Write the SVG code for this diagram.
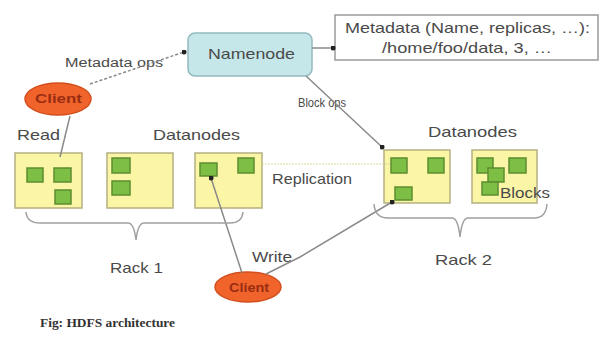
<svg xmlns="http://www.w3.org/2000/svg" width="601" height="338" viewBox="0 0 601 338">
<defs>
<marker id="dot" viewBox="0 0 6 6" refX="3" refY="3" markerWidth="5" markerHeight="5" markerUnits="userSpaceOnUse"><circle cx="3" cy="3" r="3" fill="#222"/></marker>
<style>
text{font-family:"Liberation Sans",Arial,sans-serif;fill:#4a4a4a;}
.t{font-size:15px;}
.s{font-size:12px;}
.dn{fill:#fbf5a6;stroke:#b5ae80;stroke-width:1.5;}
.bk{fill:#7cbf44;stroke:#5d8d32;stroke-width:1.5;}
.cl{fill:#f0642c;stroke:#d24e1c;stroke-width:1.5;}
.clt{font-size:13px;fill:#9a2c12;font-weight:bold;}
.ln{stroke:#8a8a8a;stroke-width:1.5;fill:none;}
.br{stroke:#a0a0a0;stroke-width:1.5;fill:none;}
</style>
</defs>
<rect width="601" height="338" fill="#ffffff"/>

<g id="namenode">
<rect x="188" y="33" width="124" height="43" rx="7" fill="#c6e7ea" stroke="#93b9be" stroke-width="1.5"/>
<text class="t" x="208" y="59" textLength="87" lengthAdjust="spacingAndGlyphs">Namenode</text>
</g>

<g id="metadata">
<rect x="335" y="15" width="263" height="45" fill="#ffffff" stroke="#9a9a9a" stroke-width="1.5"/>
<text class="t" x="345" y="33" textLength="245" lengthAdjust="spacingAndGlyphs">Metadata (Name, replicas, …):</text>
<text class="t" x="382" y="53" textLength="170" lengthAdjust="spacingAndGlyphs">/home/foo/data, 3, …</text>
</g>

<g id="client-read">
<ellipse class="cl" cx="58" cy="99" rx="33" ry="16"/>
<text class="clt" x="35" y="103" textLength="47" lengthAdjust="spacingAndGlyphs">Client</text>
</g>

<g id="client-write">
<ellipse class="cl" cx="248" cy="287" rx="33" ry="15"/>
<text class="clt" x="229" y="292" textLength="40" lengthAdjust="spacingAndGlyphs">Client</text>
</g>

<g id="labels">
<text class="s" x="65" y="67" textLength="98" lengthAdjust="spacingAndGlyphs">Metadata ops</text>
<text class="s" x="298" y="107" textLength="48" lengthAdjust="spacingAndGlyphs">Block ops</text>
<text class="t" x="17" y="140" textLength="43" lengthAdjust="spacingAndGlyphs">Read</text>
<text class="t" x="153" y="140" textLength="87" lengthAdjust="spacingAndGlyphs">Datanodes</text>
<text class="t" x="428" y="137" textLength="89" lengthAdjust="spacingAndGlyphs">Datanodes</text>
<text class="t" x="272" y="184" font-size="14" textLength="80" lengthAdjust="spacingAndGlyphs">Replication</text>
<text class="t" x="252" y="262" textLength="40" lengthAdjust="spacingAndGlyphs">Write</text>
<text class="t" x="110" y="273" textLength="53" lengthAdjust="spacingAndGlyphs">Rack 1</text>
<text class="t" x="435" y="265" textLength="57" lengthAdjust="spacingAndGlyphs">Rack 2</text>
<text x="40" y="327" style="font-family:'Liberation Serif','Times New Roman',serif;font-size:12px;font-weight:bold;fill:#333" textLength="135" lengthAdjust="spacingAndGlyphs">Fig: HDFS architecture</text>
</g>

<g id="rack1-dn1">
<rect class="dn" x="15" y="153" width="67" height="55"/>
<rect class="bk" x="27" y="168" width="16" height="14"/>
<rect class="bk" x="54" y="168" width="17" height="14"/>
<rect class="bk" x="55" y="190" width="16" height="14"/>
</g>
<g id="rack1-dn2">
<rect class="dn" x="107" y="153" width="66" height="55"/>
<rect class="bk" x="112" y="158" width="18" height="15"/>
<rect class="bk" x="112" y="181" width="18" height="14"/>
</g>
<g id="rack1-dn3">
<rect class="dn" x="195" y="153" width="67" height="55"/>
<rect class="bk" x="200" y="163" width="17" height="13"/>
<rect class="bk" x="238" y="158" width="16" height="15"/>
</g>
<g id="rack2-dn1">
<rect class="dn" x="384" y="150" width="66" height="53"/>
<rect class="bk" x="391" y="158" width="16" height="15"/>
<rect class="bk" x="428" y="158" width="16" height="15"/>
<rect class="bk" x="395" y="187" width="17" height="13"/>
</g>
<g id="rack2-dn2">
<rect class="dn" x="472" y="150" width="65" height="53"/>
<rect class="bk" x="477" y="158" width="16" height="15"/>
<rect class="bk" x="509" y="158" width="17" height="15"/>
<rect class="bk" x="488" y="168" width="16" height="14"/>
<rect class="bk" x="482" y="182" width="16" height="13"/>
<text class="t" x="500" y="198" textLength="50" lengthAdjust="spacingAndGlyphs">Blocks</text>
</g>

<g id="connectors">
<line class="ln" x1="90" y1="84" x2="184" y2="52" stroke-dasharray="3,2" stroke="#b0b0b0" marker-end="url(#dot)"/>
<line class="ln" x1="312" y1="48" x2="333" y2="48" marker-end="url(#dot)"/>
<line class="ln" x1="306" y1="76" x2="382" y2="147" marker-end="url(#dot)"/>
<line class="ln" x1="60" y1="157" x2="70" y2="116"/>
<line x1="262" y1="164" x2="391" y2="164" stroke="#d8dc9a" stroke-width="1.2" stroke-dasharray="2,1"/>
<line class="ln" x1="242" y1="273" x2="211" y2="178" marker-end="url(#dot)"/>
<polyline class="ln" points="266,274 300,257 392,202" marker-end="url(#dot)"/>
<path class="br" d="M26,212 Q27,223 40,223 L128,223 Q134,223 136,240 Q138,223 144,223 L230,223 Q242,223 243,212"/>
<path class="br" d="M374,204 Q375,218 388,218 L452,218 Q458,218 460,237 Q462,218 468,218 L534,218 Q546,218 547,204"/>
</g>
</svg>
